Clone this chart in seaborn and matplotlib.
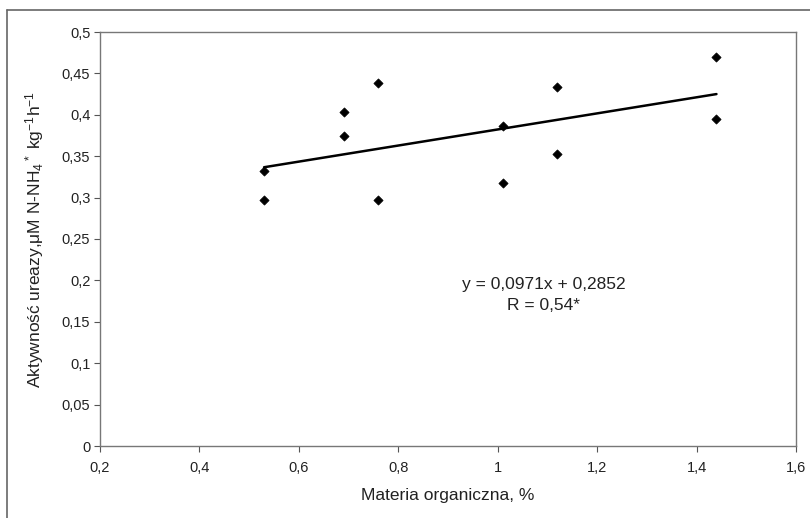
import matplotlib
matplotlib.use("Agg")
import matplotlib.pyplot as plt
import seaborn as sns
import numpy as np
import pandas as pd
from matplotlib.lines import Line2D
from matplotlib.ticker import FuncFormatter

# Data
organic_matter = [0.53, 0.53, 0.69, 0.69, 0.76, 0.76, 1.01, 1.01, 1.12, 1.12, 1.44, 1.44]
urease_activity = [0.332, 0.297, 0.403, 0.374, 0.439, 0.297, 0.386, 0.318, 0.434, 0.353, 0.470, 0.395]
slope = 0.0971
intercept = 0.2852
x_ticks = [0.2, 0.4, 0.6, 0.8, 1.0, 1.2, 1.4, 1.6]
y_ticks = [0, 0.05, 0.1, 0.15, 0.2, 0.25, 0.3, 0.35, 0.4, 0.45, 0.5]
equation_text = "y = 0,0971x + 0,2852"
r_text = "R = 0,54*"

sns.set_theme(style="white")
plt.rcParams["font.family"] = ["Liberation Sans", "DejaVu Sans"]
plt.rcParams["mathtext.fontset"] = "custom"
plt.rcParams["mathtext.rm"] = "Liberation Sans"
plt.rcParams["mathtext.it"] = "Liberation Sans"

df = pd.DataFrame({"x": organic_matter, "y": urease_activity})

fig = plt.figure(figsize=(8.1, 5.18), dpi=100)
ax = fig.add_axes([100 / 810, 1 - 446 / 518, 696 / 810, (446 - 32) / 518])

sns.scatterplot(data=df, x="x", y="y", ax=ax, marker="D", s=22, color="black",
                edgecolor="black", linewidth=0.5, zorder=3)

# trend line over data range
xl = np.array([min(organic_matter), max(organic_matter)])
sns.lineplot(x=xl, y=slope * xl + intercept, ax=ax, color="black", linewidth=1.8, zorder=2)

ax.set_xlim(0.2, 1.6)
ax.set_ylim(0, 0.5)
ax.set_xticks(x_ticks)
ax.set_yticks(y_ticks)
fmt = FuncFormatter(lambda v, p: (f"{v:.2f}".rstrip("0").rstrip(".")).replace(".", ","))
ax.xaxis.set_major_formatter(fmt)
ax.yaxis.set_major_formatter(fmt)
ax.tick_params(axis="both", direction="out", length=4, width=0.8, color="#555555",
               labelsize=10.5, labelcolor="#222222", pad=3, left=True, bottom=True)
ax.tick_params(axis="x", pad=7)
for sp in ax.spines.values():
    sp.set_color("#777777")
    sp.set_linewidth(1.0)

ax.set_xlabel("Materia organiczna, %", fontsize=12.5, color="#222222", labelpad=9)
ax.set_ylabel("Aktywność ureazy,$\\mu$M N-NH$_4$$^*$ kg$^{-1}$h$^{-1}$", fontsize=12.5,
              color="#222222", labelpad=11)

ax.text(1.093, 0.1945, equation_text, ha="center", va="center", fontsize=12.5, color="#222222")
ax.text(1.093, 0.1695, r_text, ha="center", va="center", fontsize=12.5, color="#222222")

# outer frame (left and top)
fig.add_artist(Line2D([7 / 810, 7 / 810], [0, 1 - 10 / 518], transform=fig.transFigure,
                      color="#666666", linewidth=1.2))
fig.add_artist(Line2D([7 / 810, 1.0], [1 - 10 / 518, 1 - 10 / 518], transform=fig.transFigure,
                      color="#666666", linewidth=1.2))

fig.savefig("out.png", dpi=100)
